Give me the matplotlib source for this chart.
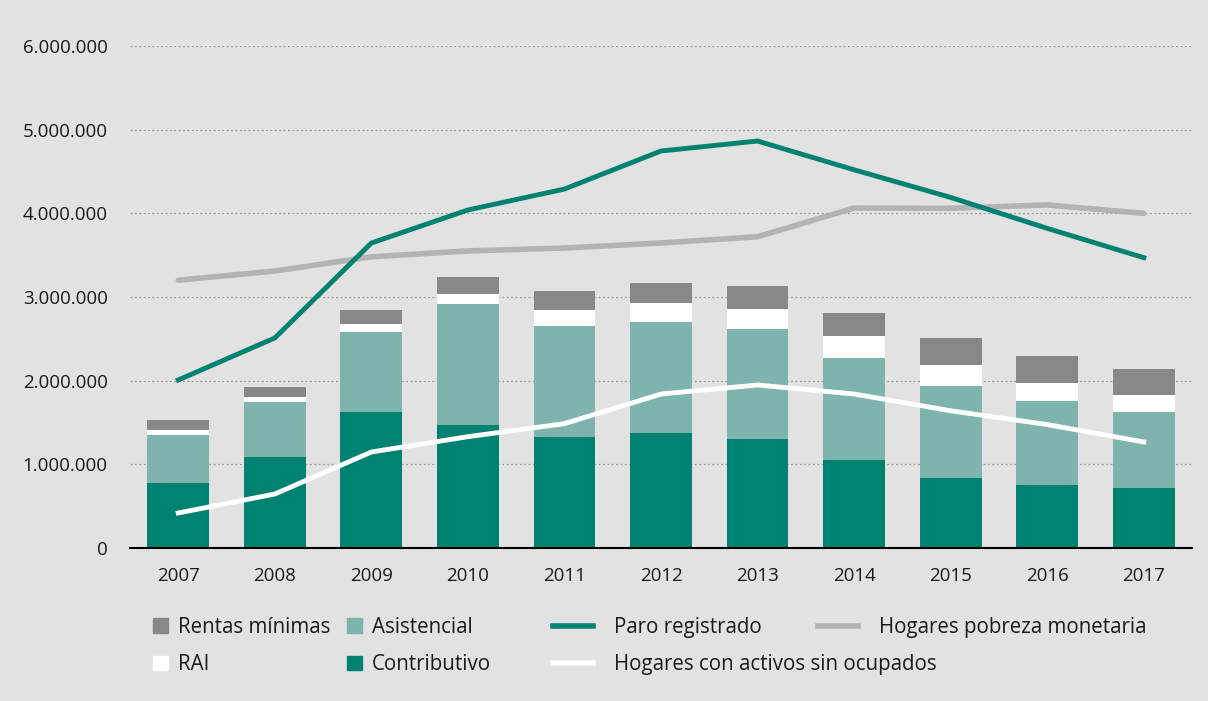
import matplotlib.pyplot as plt
from matplotlib.patches import Patch
from matplotlib.lines import Line2D
from matplotlib.ticker import FuncFormatter

years = ["2007", "2008", "2009", "2010", "2011", "2012", "2013", "2014", "2015", "2016", "2017"]

# stacked bars (beneficiaries)
contributivo = [773000, 1091000, 1622000, 1470000, 1323000, 1374000, 1303000, 1052000, 833000, 753000, 717000]
asistencial = [577000, 654000, 960000, 1442000, 1330000, 1331000, 1318000, 1223000, 1103000, 1004000, 908000]
rai = [60000, 63000, 95000, 128000, 191000, 227000, 235000, 263000, 251000, 219000, 200000]
rentas_minimas = [116000, 116000, 164000, 199000, 228000, 231000, 271000, 271000, 323000, 319000, 318000]

# lines
paro_registrado = [2008000, 2510000, 3645000, 4040000, 4290000, 4745000, 4864000, 4520000, 4190000, 3820000, 3470000]
hogares_pobreza = [3200000, 3310000, 3480000, 3550000, 3585000, 3645000, 3720000, 4063000, 4060000, 4100000, 4000000]
hogares_activos = [418000, 645000, 1147000, 1330000, 1486000, 1840000, 1948000, 1840000, 1640000, 1475000, 1267000]

bg = "#e2e2e2"
c_contrib = "#008272"
c_asist = "#7fb3ad"
c_rai = "#ffffff"
c_rentas = "#888888"
c_pobreza = "#b3b3b3"
fs = 13.5
fs_leg = 14.8

plt.rcParams['font.family'] = ['Open Sans', 'DejaVu Sans']

fig = plt.figure(figsize=(12.08, 7.01), dpi=100, facecolor=bg)
ax = fig.add_axes([0.1076, 0.2183, 0.8792, 0.7161], facecolor=bg)

x = list(range(len(years)))
w = 0.64
b1 = contributivo
b2 = [a + b for a, b in zip(b1, asistencial)]
b3 = [a + b for a, b in zip(b2, rai)]
ax.bar(x, contributivo, w, color=c_contrib, zorder=2)
ax.bar(x, asistencial, w, bottom=b1, color=c_asist, zorder=2)
ax.bar(x, rai, w, bottom=b2, color=c_rai, zorder=2)
ax.bar(x, rentas_minimas, w, bottom=b3, color=c_rentas, zorder=2)

ax.plot(x, hogares_pobreza, color=c_pobreza, lw=4, zorder=3, solid_capstyle="round")
ax.plot(x, paro_registrado, color=c_contrib, lw=3.5, zorder=3)
ax.plot(x, hogares_activos, color="white", lw=3.5, zorder=3)

ax.set_xlim(-0.5, 10.5)
ax.set_ylim(0, 6000000)
ax.set_yticks(range(0, 6000001, 1000000))
ax.yaxis.set_major_formatter(FuncFormatter(lambda v, p: f"{int(v):,}".replace(",", ".")))
ax.set_xticks(x)
ax.set_xticklabels(years)
ax.grid(axis="y", color="#9a9a9a", ls=(0, (1.5, 2)), lw=0.9, zorder=1)
ax.tick_params(axis="both", length=0, labelsize=fs, colors="#1a1a1a")
ax.tick_params(axis="y", pad=16)
ax.tick_params(axis="x", pad=14)
for s in ["top", "right", "left"]:
    ax.spines[s].set_visible(False)
ax.spines["bottom"].set_color("black")
ax.spines["bottom"].set_linewidth(1.5)
ax.spines["bottom"].set_zorder(4)


def legend_col(handles, labels, xpix, hl, tp, hh=0.7):
    leg = fig.legend(handles, labels, loc="center left",
                     bbox_to_anchor=(xpix / 1208, (701 - 646) / 701),
                     frameon=False, fontsize=fs_leg, borderpad=0, borderaxespad=0,
                     handlelength=hl, handleheight=hh, handletextpad=tp,
                     labelspacing=0.8, labelcolor="#1a1a1a")
    return leg


legend_col([Patch(color=c_rentas), Patch(color=c_rai)],
           ["Rentas mínimas", "RAI"], 153, 0.75, 0.45)
legend_col([Patch(color=c_asist), Patch(color=c_contrib)],
           ["Asistencial", "Contributivo"], 347, 0.75, 0.45)
legend_col([Line2D([], [], color=c_contrib, lw=4), Line2D([], [], color="white", lw=4)],
           ["Paro registrado", "Hogares con activos sin ocupados"], 553, 1.95, 1.0)
legend_col([Line2D([], [], color=c_pobreza, lw=4), Line2D([], [], color=bg, lw=0)],
           ["Hogares pobreza monetaria", " "], 818, 1.95, 1.0)

fig.savefig("out.png", dpi=100, facecolor=bg)
